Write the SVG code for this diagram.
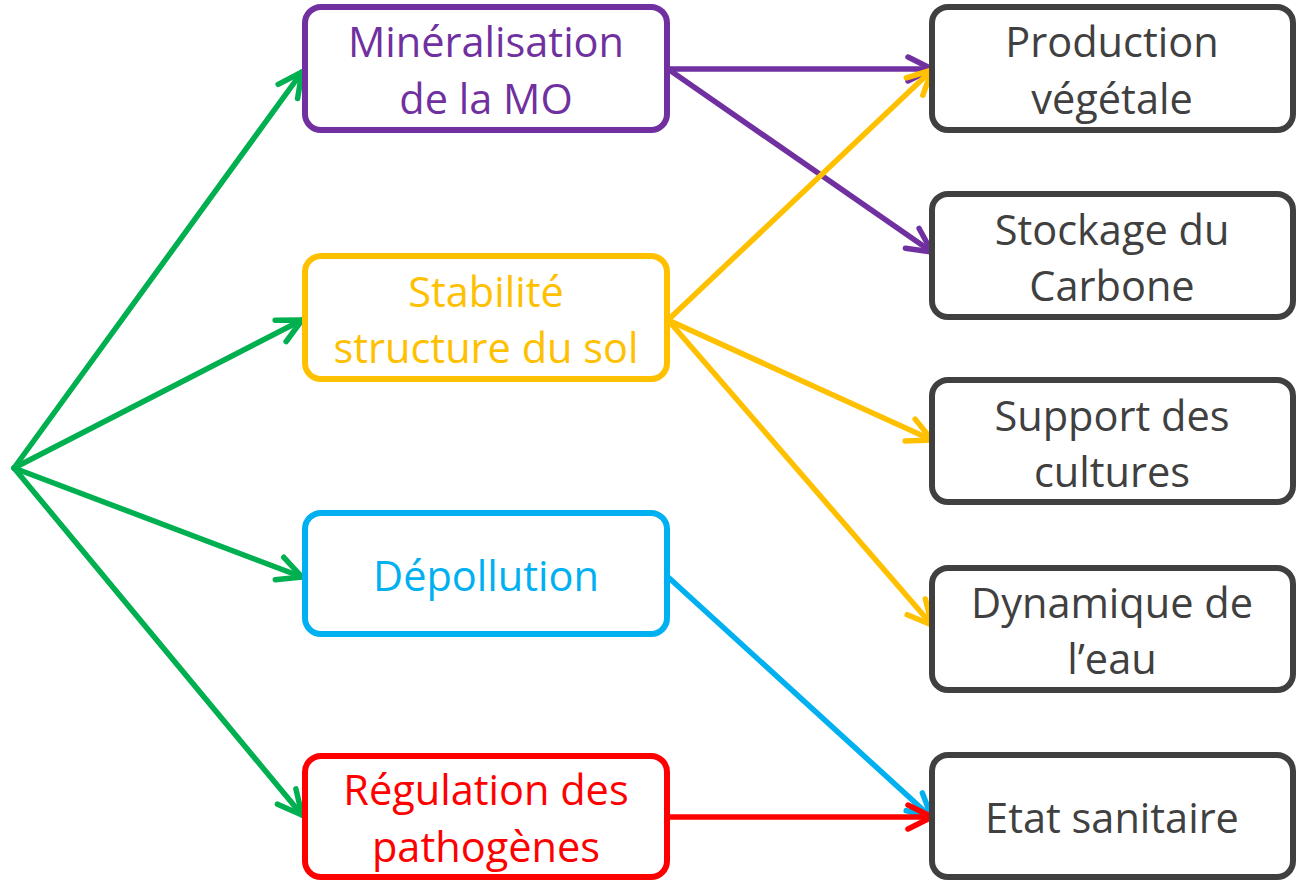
<svg xmlns="http://www.w3.org/2000/svg" width="1296" height="881" viewBox="0 0 1296 881">
<style>
.box{fill:#fff;stroke-width:6}
.t{font-family:"Open Sans","Liberation Sans",sans-serif;font-size:41.5px;text-anchor:middle}
.c{fill:none;stroke-width:5.5;stroke-linecap:round}
.mk{fill:none;stroke-width:5.5;stroke-linecap:round;stroke-linejoin:round}
</style>
<defs>
<marker id="ag" markerUnits="userSpaceOnUse" markerWidth="32" markerHeight="32" viewBox="0 0 32 32" refX="29" refY="16" orient="auto"><path class="mk" stroke="#00B050" d="M5,4 L29,16 L5,28"/></marker>
<marker id="ap" markerUnits="userSpaceOnUse" markerWidth="32" markerHeight="32" viewBox="0 0 32 32" refX="29" refY="16" orient="auto"><path class="mk" stroke="#7030A0" d="M5,4 L29,16 L5,28"/></marker>
<marker id="ay" markerUnits="userSpaceOnUse" markerWidth="32" markerHeight="32" viewBox="0 0 32 32" refX="29" refY="16" orient="auto"><path class="mk" stroke="#FFC000" d="M5,4 L29,16 L5,28"/></marker>
<marker id="ab" markerUnits="userSpaceOnUse" markerWidth="32" markerHeight="32" viewBox="0 0 32 32" refX="29" refY="16" orient="auto"><path class="mk" stroke="#00B0F0" d="M5,4 L29,16 L5,28"/></marker>
<marker id="ar" markerUnits="userSpaceOnUse" markerWidth="32" markerHeight="32" viewBox="0 0 32 32" refX="29" refY="16" orient="auto"><path class="mk" stroke="#FF0000" d="M5,4 L29,16 L5,28"/></marker>
</defs>
<rect width="1296" height="881" fill="#fff"/>
<g id="connectors">
<line class="c" stroke="#00B050" x1="14" y1="468" x2="302" y2="72" marker-end="url(#ag)"/>
<line class="c" stroke="#00B050" x1="14" y1="468" x2="302" y2="320" marker-end="url(#ag)"/>
<line class="c" stroke="#00B050" x1="14" y1="468" x2="302" y2="577" marker-end="url(#ag)"/>
<line class="c" stroke="#00B050" x1="14" y1="468" x2="302" y2="815" marker-end="url(#ag)"/>
<line class="c" stroke="#7030A0" x1="668" y1="69" x2="932" y2="69" marker-end="url(#ap)"/>
<line class="c" stroke="#7030A0" x1="668" y1="69" x2="932" y2="252" marker-end="url(#ap)"/>
<line class="c" stroke="#FFC000" x1="668" y1="320" x2="932" y2="70" marker-end="url(#ay)"/>
<line class="c" stroke="#FFC000" x1="668" y1="320" x2="932" y2="440" marker-end="url(#ay)"/>
<line class="c" stroke="#FFC000" x1="668" y1="320" x2="932" y2="625" marker-end="url(#ay)"/>
<line class="c" stroke="#00B0F0" x1="668" y1="577" x2="932" y2="818" marker-end="url(#ab)"/>
<line class="c" stroke="#FF0000" x1="668" y1="817" x2="932" y2="817" marker-end="url(#ar)"/>
</g>
<g id="n-mineralisation">
<rect class="box" stroke="#7030A0" x="305" y="7" width="362" height="123" rx="16"/>
<text class="t" fill="#7030A0" x="486" y="57">Minéralisation</text>
<text class="t" fill="#7030A0" x="486" y="114">de la MO</text>
</g>
<g id="n-stabilite">
<rect class="box" stroke="#FFC000" x="305" y="256" width="362" height="123" rx="16"/>
<text class="t" fill="#FFC000" x="486" y="307">Stabilité</text>
<text class="t" fill="#FFC000" x="486" y="363">structure du sol</text>
</g>
<g id="n-depollution">
<rect class="box" stroke="#00B0F0" x="305" y="513" width="362" height="121" rx="16"/>
<text class="t" fill="#00B0F0" x="486" y="591">Dépollution</text>
</g>
<g id="n-regulation">
<rect class="box" stroke="#FF0000" x="305" y="756" width="362" height="121" rx="16"/>
<text class="t" fill="#FF0000" x="486" y="805">Régulation des</text>
<text class="t" fill="#FF0000" x="486" y="862">pathogènes</text>
</g>
<g id="n-production">
<rect class="box" stroke="#404040" x="932" y="7" width="361" height="123" rx="16"/>
<text class="t" fill="#404040" x="1112" y="57">Production</text>
<text class="t" fill="#404040" x="1112" y="114">végétale</text>
</g>
<g id="n-stockage">
<rect class="box" stroke="#404040" x="932" y="194" width="361" height="123" rx="16"/>
<text class="t" fill="#404040" x="1112" y="245">Stockage du</text>
<text class="t" fill="#404040" x="1112" y="301">Carbone</text>
</g>
<g id="n-support">
<rect class="box" stroke="#404040" x="932" y="380" width="361" height="122" rx="16"/>
<text class="t" fill="#404040" x="1112" y="431">Support des</text>
<text class="t" fill="#404040" x="1112" y="487">cultures</text>
</g>
<g id="n-dynamique">
<rect class="box" stroke="#404040" x="932" y="568" width="361" height="122" rx="16"/>
<text class="t" fill="#404040" x="1112" y="618">Dynamique de</text>
<text class="t" fill="#404040" x="1112" y="674">l’eau</text>
</g>
<g id="n-etat">
<rect class="box" stroke="#404040" x="932" y="755" width="361" height="122" rx="16"/>
<text class="t" fill="#404040" x="1112" y="833">Etat sanitaire</text>
</g>
</svg>
